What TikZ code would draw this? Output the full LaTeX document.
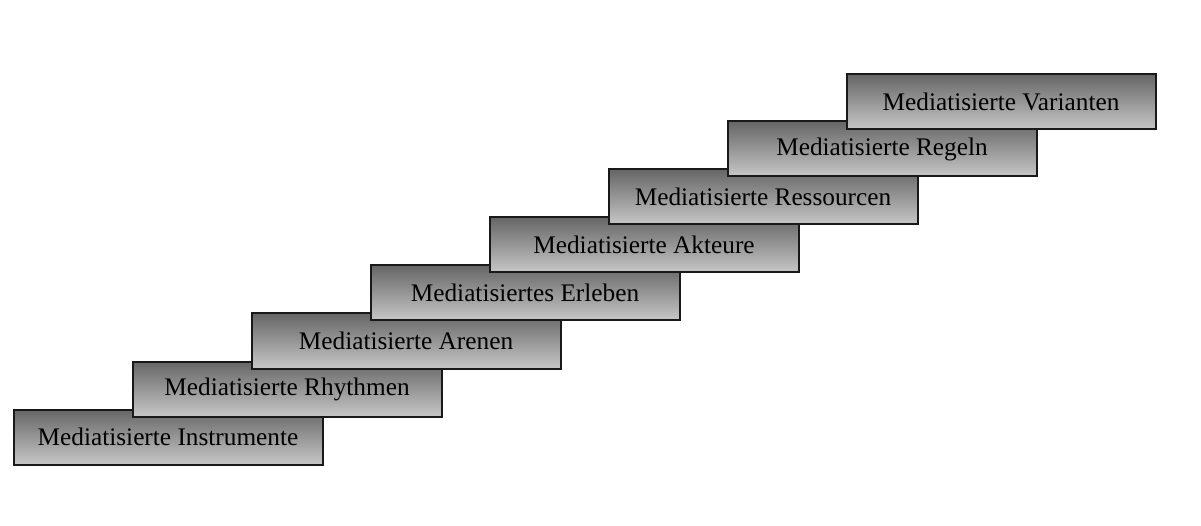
\documentclass[tikz,border=0pt]{standalone}
\usepackage{fontspec}
\setmainfont{Liberation Serif}
\begin{document}
\begin{tikzpicture}[x=1pt,y=1pt]
    \tikzstyle{every node}=[rectangle,draw=black!90,line width=2pt,minimum width=309pt,minimum height=55pt,inner sep=0pt,top color=black!60,bottom color=black!22,font=\fontsize{25.3}{28}\selectfont]
    \useasboundingbox (0,0) rectangle (1201,525);
    \draw (168,88) node (1) {Mediatisierte Instrumente};
    \draw (287,136) node (2) {Mediatisierte Rhythmen};
    \draw (406,184) node (3) {Mediatisierte Arenen};
    \draw (525,232) node (4) {Mediatisiertes Erleben};
    \draw (644,280) node (5) {Mediatisierte Akteure};
    \draw (763,328) node (6) {Mediatisierte Ressourcen};
    \draw (882,376) node (7) {Mediatisierte Regeln};
    \draw (1001,423) node (8) {Mediatisierte Varianten};
\end{tikzpicture}
\end{document}
